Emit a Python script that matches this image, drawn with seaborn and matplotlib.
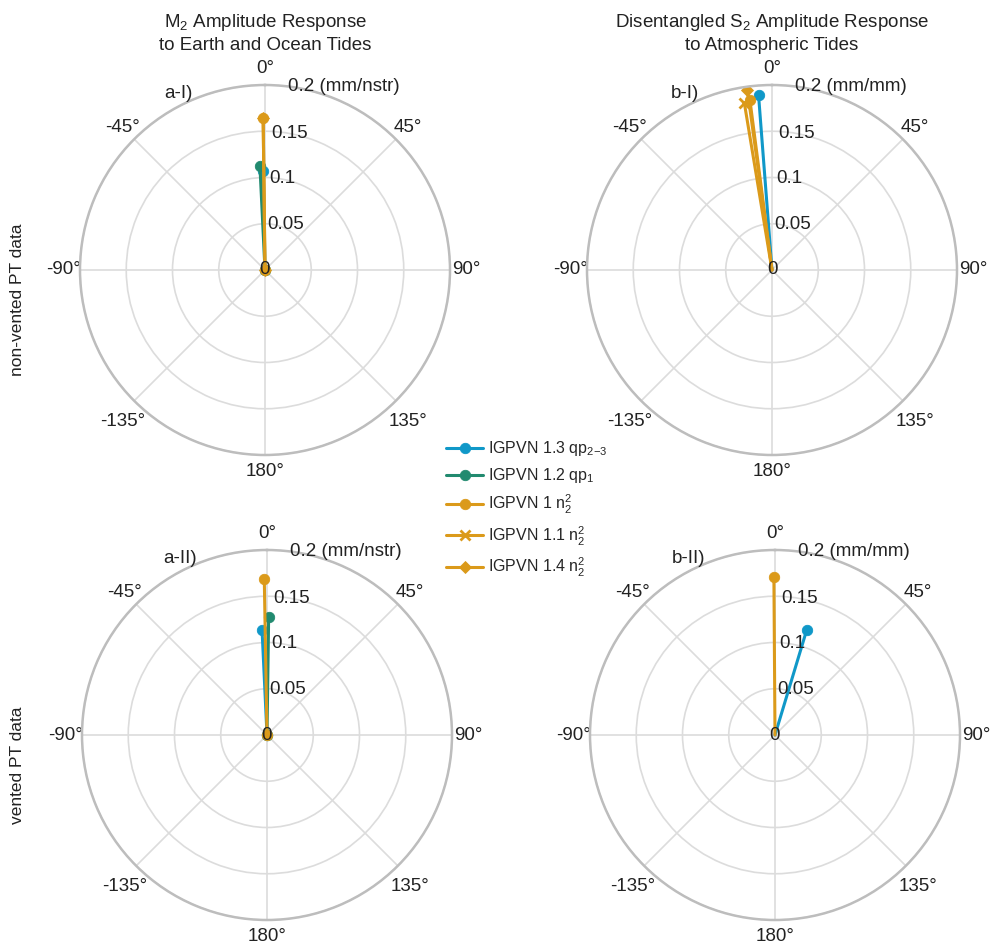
import numpy as np
import pandas as pd
import matplotlib
matplotlib.use("Agg")
import matplotlib.pyplot as plt
import seaborn as sns

# data (angle in degrees, amplitude)
SERIES = ["IGPVN 1.3 qp$_{2\\mathregular{-}3}$", "IGPVN 1.2 qp$_1$", "IGPVN 1 n$_2^2$",
          "IGPVN 1.1 n$_2^2$", "IGPVN 1.4 n$_2^2$"]
COLORS = ["#1098c8", "#218a6f", "#db9a1a", "#db9a1a", "#db9a1a"]
MARKERS = ["o", "o", "o", "x", "D"]

# a-I: M2, non-vented
a1_phase = [-1.0, -2.8, -0.7, None, -0.7]
a1_amp = [0.107, 0.113, 0.164, None, 0.164]
# b-I: S2, non-vented
b1_phase = [-4.4, None, -7.4, -9.4, -7.8]
b1_amp = [0.190, None, 0.185, 0.183, 0.196]
# a-II: M2, vented
a2_phase = [-2.7, 0.8, -1.0, None, None]
a2_amp = [0.114, 0.128, 0.169, None, None]
# b-II: S2, vented
b2_phase = [16.8, None, -0.4, None, None]
b2_amp = [0.119, None, 0.171, None, None]

R_TICKS = [0, 0.05, 0.1, 0.15, 0.2]
THETA_TICKS = [0, 45, 90, 135, 180, 225, 270, 315]
THETA_LABELS = ["0°", "45°", "90°", "135°", "180°", "-135°", "-90°", "-45°"]

sns.set_theme(style="white")
plt.rcParams["font.family"] = ["Liberation Sans", "DejaVu Sans"]
plt.rcParams["mathtext.fontset"] = "custom"
plt.rcParams["mathtext.rm"] = "Liberation Sans"
plt.rcParams["mathtext.it"] = "Liberation Sans"
plt.rcParams["mathtext.bf"] = "Liberation Sans"

TXT = "#222222"
FS = 13.5

fig = plt.figure(figsize=(9.92, 9.49), dpi=100)
W, H = 992, 949
SIZE = 370


def add_polar(cx, cy):
    left = (cx - SIZE / 2) / W
    bottom = 1 - (cy + SIZE / 2) / H
    return fig.add_axes([left, bottom, SIZE / W, SIZE / H], projection="polar")


def marker_kw(col, mk):
    return dict(marker=mk, markersize=7.5 if mk != "D" else 6,
                markeredgewidth=2 if mk == "x" else 0.6, markeredgecolor=col)


def draw_panel(ax, phases, amps, unit, tag, center_markers):
    ax.set_theta_zero_location("N")
    ax.set_theta_direction(-1)
    ax.set_ylim(0, 0.2)
    ax.set_yticks(R_TICKS)
    ax.set_yticklabels([])
    ax.set_xticks(np.deg2rad(THETA_TICKS))
    ax.set_xticklabels(THETA_LABELS, fontsize=FS, color=TXT)
    ax.tick_params(axis="x", pad=-1)
    for lbl in ax.get_xticklabels():
        if lbl.get_text() in ("135°", "-135°"):
            lbl.set_va("top")
    ax.grid(True, color="#dcdcdc", linewidth=1.2)
    ax.spines["polar"].set_color("#bdbdbd")
    ax.spines["polar"].set_linewidth(1.8)
    ax.set_facecolor("white")

    for name, col, mk, ph, am in zip(SERIES, COLORS, MARKERS, phases, amps):
        if ph is None:
            continue
        th = np.deg2rad(ph)
        df = pd.DataFrame({"theta": [th, th], "r": [0.0, am]})
        sns.lineplot(data=df, x="theta", y="r", ax=ax, color=col, linewidth=2.2,
                     markevery=[0, 1] if center_markers else [1],
                     sort=False, estimator=None, label=name, legend=False,
                     **marker_kw(col, mk))
    ax.set_xlabel("")
    ax.set_ylabel("")

    for r in R_TICKS:
        if r == 0:
            ax.text(0, 0, "0", ha="center", va="center", fontsize=FS, color=TXT)
        elif r == 0.2:
            ax.text(np.deg2rad(7), r, f"{r:g} ({unit})", ha="left", va="center",
                    fontsize=FS, color=TXT)
        else:
            ax.text(np.deg2rad(2.5), r * 0.985, f"{r:g}", ha="left", va="center",
                    fontsize=FS, color=TXT)
    ax.text(0.265, 0.978, tag, transform=ax.transAxes, ha="center", va="center",
            fontsize=FS, color=TXT)


ax_a1 = add_polar(265, 270)
ax_b1 = add_polar(772, 270)
ax_a2 = add_polar(267, 735)
ax_b2 = add_polar(775, 735)

draw_panel(ax_a1, a1_phase, a1_amp, "mm/nstr", "a-I)", True)
draw_panel(ax_b1, b1_phase, b1_amp, "mm/mm", "b-I)", False)
draw_panel(ax_a2, a2_phase, a2_amp, "mm/nstr", "a-II)", True)
draw_panel(ax_b2, b2_phase, b2_amp, "mm/mm", "b-II)", False)

fig.text(265 / W, 1 - 33 / H, "M$_2$ Amplitude Response\nto Earth and Ocean Tides",
         ha="center", va="center", fontsize=FS, color=TXT, linespacing=1.25)
fig.text(772 / W, 1 - 33 / H, "Disentangled S$_2$ Amplitude Response\nto Atmospheric Tides",
         ha="center", va="center", fontsize=FS, color=TXT, linespacing=1.25)
fig.text(18 / W, 1 - 300 / H, "non-vented PT data", rotation=90, ha="center",
         va="center", fontsize=12.5, color=TXT)
fig.text(18 / W, 1 - 765 / H, "vented PT data", rotation=90, ha="center",
         va="center", fontsize=12.5, color=TXT)

handles = [plt.Line2D([], [], color=c, linewidth=2.2, **marker_kw(c, m))
           for c, m in zip(COLORS, MARKERS)]
fig.legend(handles, SERIES, loc="upper left", bbox_to_anchor=(435 / W, 1 - 428 / H),
           frameon=False, fontsize=11.5, handlelength=2.3, handletextpad=0.3,
           labelspacing=0.5, borderpad=0.2)

fig.savefig("out.png", dpi=100)
